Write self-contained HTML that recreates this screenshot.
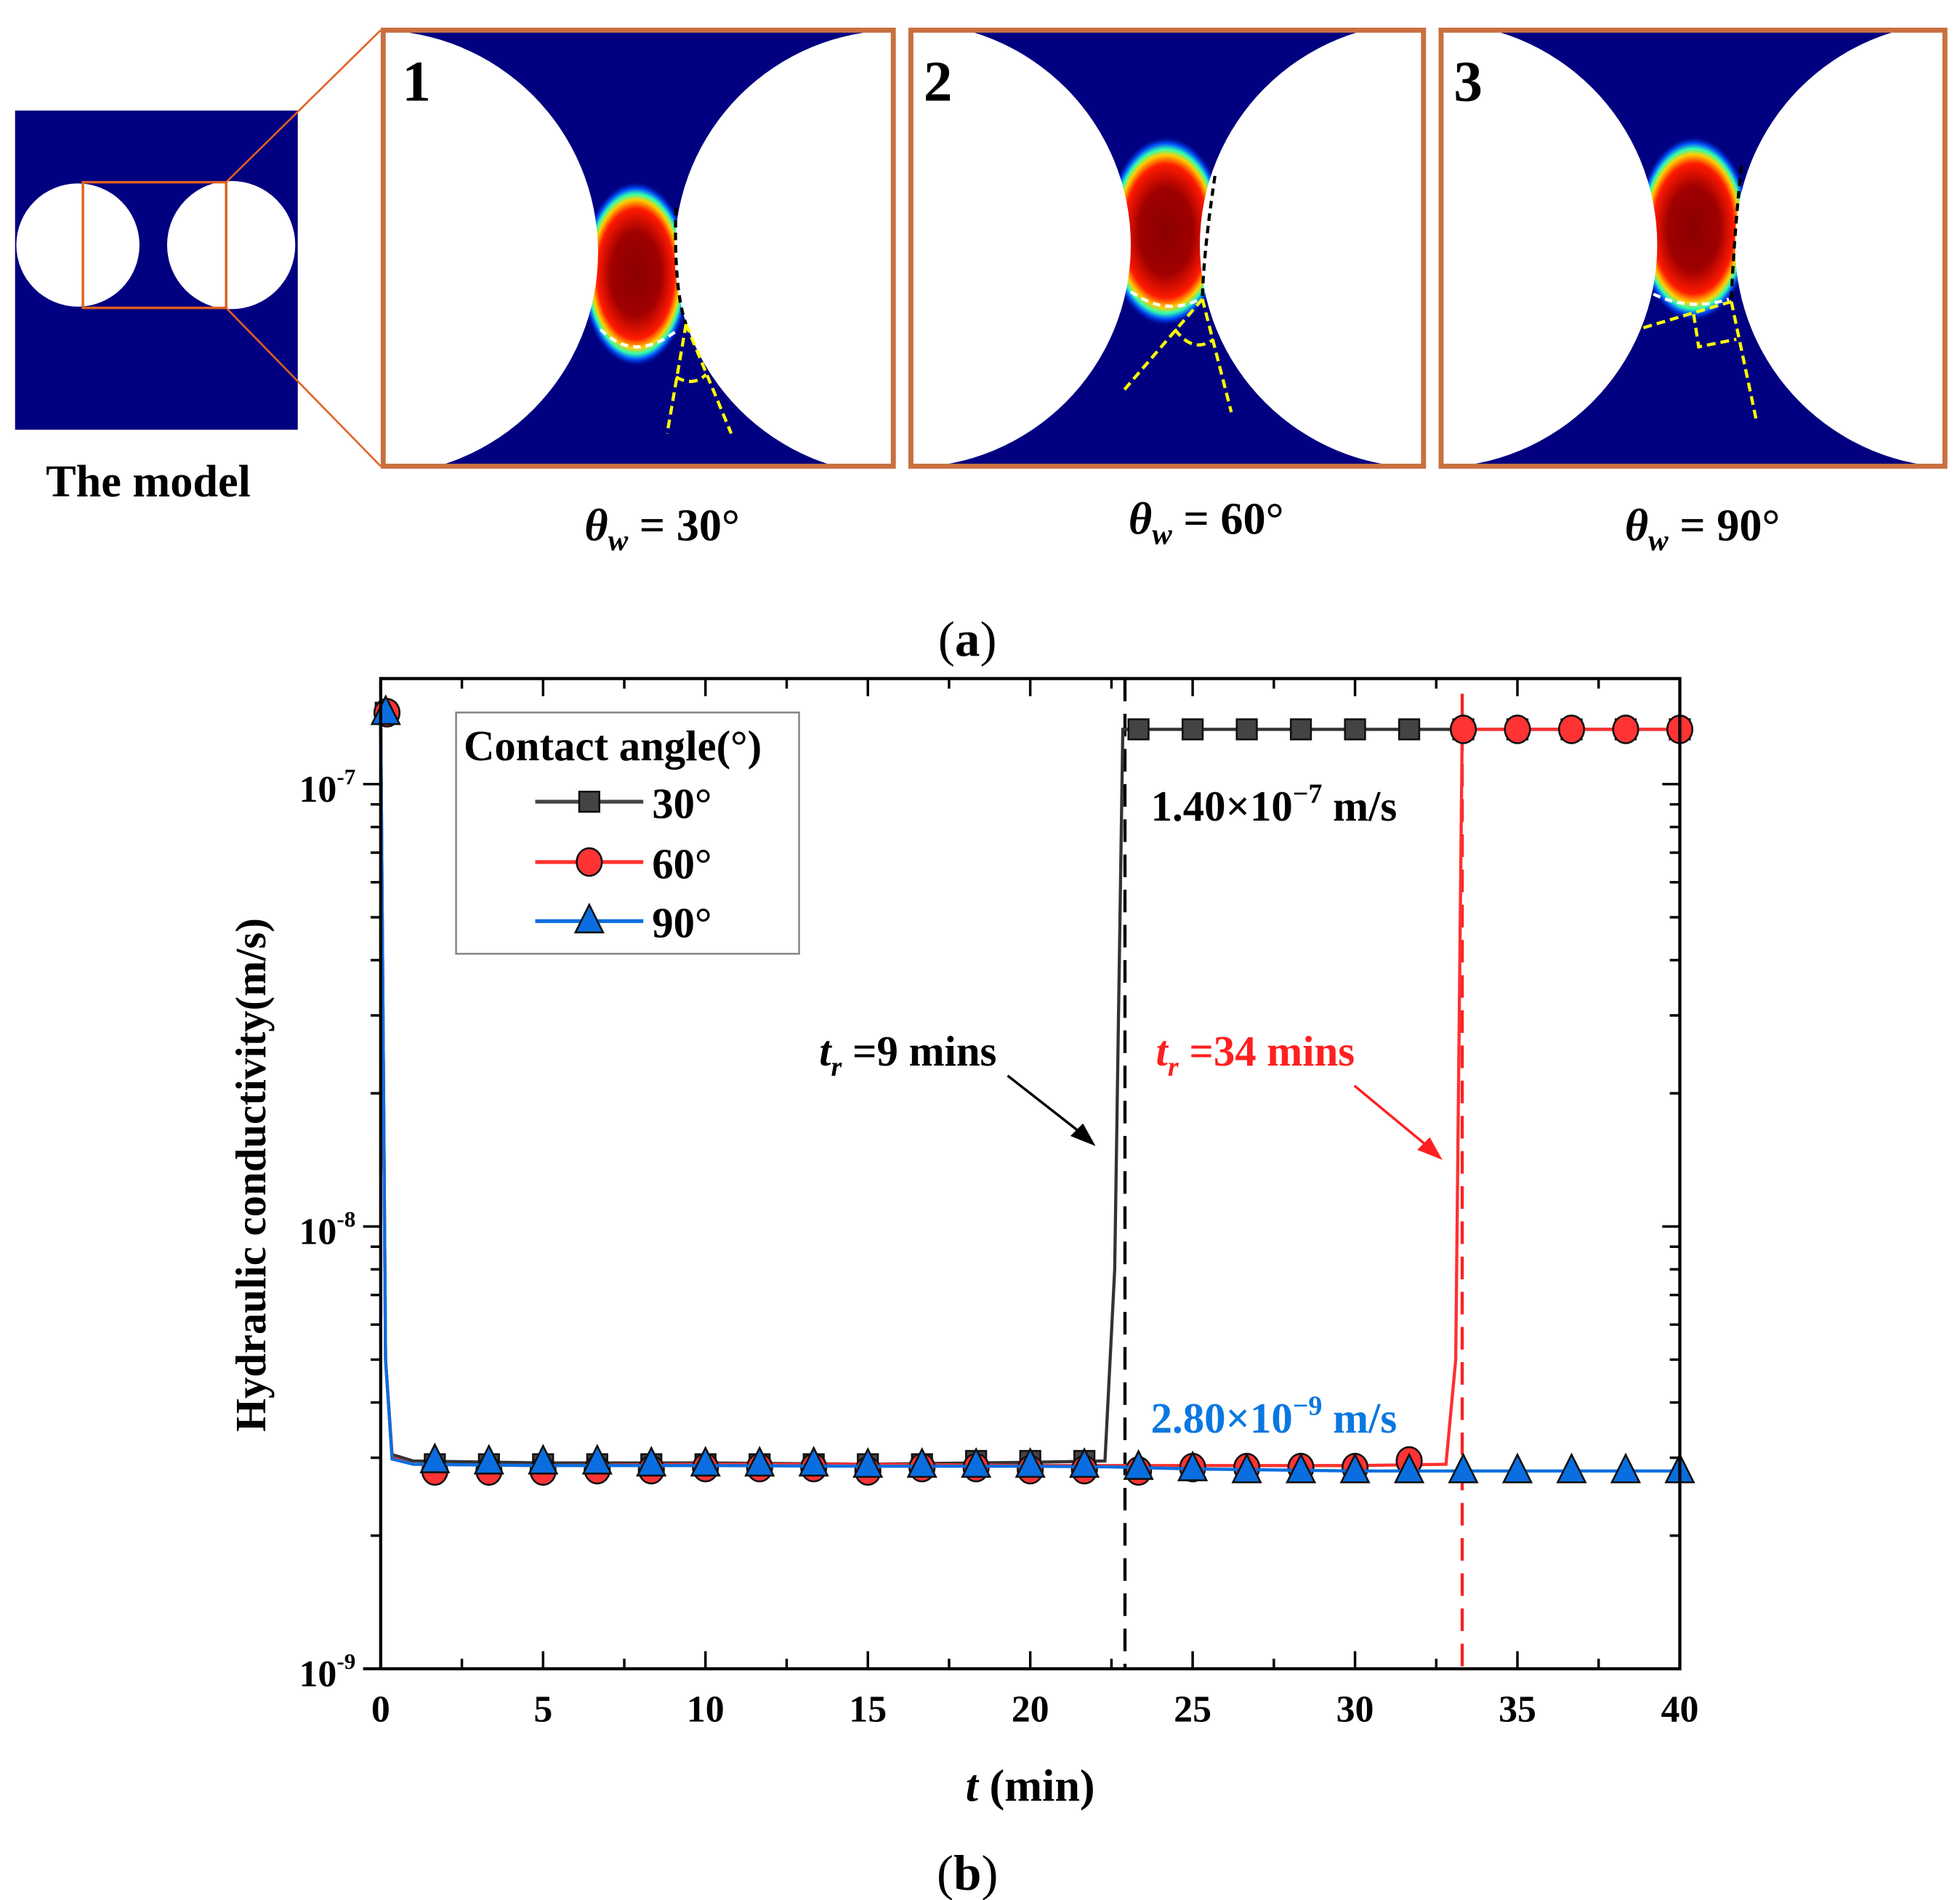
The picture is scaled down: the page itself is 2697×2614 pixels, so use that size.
<!DOCTYPE html>
<html><head><meta charset="utf-8"><style>
html,body{margin:0;padding:0;background:#fff}
svg{display:block}
text{font-family:"Liberation Serif",serif;font-weight:bold}
</style></head><body>
<svg id="root" width="2697" height="2614" viewBox="0 0 1560 1512" preserveAspectRatio="none" xmlns="http://www.w3.org/2000/svg">
<defs>
<radialGradient id="drop" cx="50%" cy="50%" r="50%">
<stop offset="0" stop-color="#8b0000"/><stop offset="0.45" stop-color="#a00000"/><stop offset="0.7" stop-color="#ff1a00"/><stop offset="0.8" stop-color="#ffd000"/><stop offset="0.86" stop-color="#30ffb0"/><stop offset="0.92" stop-color="#0050ff"/><stop offset="1" stop-color="#000080" stop-opacity="0"/>
</radialGradient>
<clipPath id="c1"><rect x="305" y="24" width="406" height="347"/></clipPath>
<clipPath id="c2"><rect x="725" y="24" width="408" height="347"/></clipPath>
<clipPath id="c3"><rect x="1147" y="24" width="401" height="347"/></clipPath>
</defs>

<g>
<rect x="12" y="88" width="225" height="254" fill="#000080"/>
<circle cx="62" cy="195" r="49" fill="#fff"/>
<circle cx="184" cy="195" r="51" fill="#fff"/>
<rect x="66" y="145" width="114" height="100" fill="none" stroke="#e06020" stroke-width="2"/>
<line x1="180" y1="145" x2="303" y2="24" stroke="#e06020" stroke-width="1.5"/>
<line x1="180" y1="245" x2="303" y2="371" stroke="#e06020" stroke-width="1.5"/>
<text x="118" y="395" font-size="36" text-anchor="middle">The model</text>
</g>

<g>
<g clip-path="url(#c1)">
<rect x="305" y="24" width="406" height="347" fill="#000080"/>
<ellipse cx="506" cy="218" rx="44" ry="74" fill="url(#drop)"/>
<circle cx="299" cy="201" r="177" fill="#fff"/>
<circle cx="714" cy="201" r="177" fill="#fff"/>
</g>
<path d="M538,165 Q536,230 546,258" stroke="#000" stroke-width="2.5" stroke-dasharray="6,4" fill="none"/>
<path d="M478,262 Q505,290 540,262" stroke="#fff" stroke-width="2.5" stroke-dasharray="6,4" fill="none"/>
<path d="M546,258 L531,345 M546,258 L582,345 M538,300 Q552,308 562,298" stroke="#ffff00" stroke-width="2.5" stroke-dasharray="7,4" fill="none"/>
<rect x="305" y="24" width="406" height="347" fill="none" stroke="#c87040" stroke-width="4"/>
<text x="320" y="80" font-size="46">1</text>
<text x="527" y="430" font-size="36" text-anchor="middle"><tspan font-style="italic">θ</tspan><tspan font-style="italic" font-size="24" dy="8">w</tspan><tspan dy="-8"> = 30°</tspan></text>
</g>

<g>
<g clip-path="url(#c2)">
<rect x="725" y="24" width="408" height="347" fill="#000080"/>
<ellipse cx="928" cy="184" rx="48" ry="76" fill="url(#drop)"/>
<circle cx="723" cy="195" r="177" fill="#fff"/>
<circle cx="1132" cy="195" r="177" fill="#fff"/>
</g>
<path d="M967,140 Q958,200 957,237" stroke="#000" stroke-width="2.5" stroke-dasharray="6,4" fill="none"/>
<path d="M900,232 Q928,252 955,238" stroke="#fff" stroke-width="2.5" stroke-dasharray="6,4" fill="none"/>
<path d="M957,238 L895,310 M957,238 L980,328 M935,262 Q950,282 966,270" stroke="#ffff00" stroke-width="2.5" stroke-dasharray="7,4" fill="none"/>
<rect x="725" y="24" width="408" height="347" fill="none" stroke="#c87040" stroke-width="4"/>
<text x="735" y="80" font-size="46">2</text>
<text x="960" y="425" font-size="36" text-anchor="middle"><tspan font-style="italic">θ</tspan><tspan font-style="italic" font-size="24" dy="8">w</tspan><tspan dy="-8"> = 60°</tspan></text>
</g>

<g>
<g clip-path="url(#c3)">
<rect x="1147" y="24" width="401" height="347" fill="#000080"/>
<ellipse cx="1348" cy="182" rx="46" ry="74" fill="url(#drop)"/>
<circle cx="1142" cy="195" r="177" fill="#fff"/>
<circle cx="1558" cy="195" r="177" fill="#fff"/>
</g>
<path d="M1386,132 Q1380,190 1378,238" stroke="#000" stroke-width="2.5" stroke-dasharray="6,4" fill="none"/>
<path d="M1316,234 Q1345,248 1376,238" stroke="#fff" stroke-width="2.5" stroke-dasharray="6,4" fill="none"/>
<path d="M1378,240 L1304,262 M1378,240 L1398,335 M1348,250 L1352,276 L1382,270" stroke="#ffff00" stroke-width="2.5" stroke-dasharray="7,4" fill="none"/>
<rect x="1147" y="24" width="401" height="347" fill="none" stroke="#c87040" stroke-width="4"/>
<text x="1157" y="80" font-size="46">3</text>
<text x="1355" y="430" font-size="36" text-anchor="middle"><tspan font-style="italic">θ</tspan><tspan font-style="italic" font-size="24" dy="8">w</tspan><tspan dy="-8"> = 90°</tspan></text>
</g>

<text x="770" y="522" font-size="40" text-anchor="middle" style="font-weight:normal">(<tspan font-weight="bold">a</tspan>)</text>

<g id="chart"></g>
<text x="770" y="1504" font-size="40" text-anchor="middle" style="font-weight:normal">(<tspan font-weight="bold">b</tspan>)</text>
</svg>
<script>
const xTicks = [0,5,10,15,20,25,30,35,40];
const yDecades = [-9,-8,-7];
const markerTimes = [1.667,3.333,5,6.667,8.333,10,11.667,13.333,15,16.667,18.333,20,21.667,23.333,25,26.667,28.333,30,31.667,33.333,35,36.667,38.333,40];
const line30T = [0,0.15,0.35,1,5,10,15,20,22.3,22.6,22.85,40];
const line30V = [1.45e-7,5e-9,3.05e-9,2.95e-9,2.92e-9,2.92e-9,2.9e-9,2.93e-9,2.95e-9,8e-9,1.33e-7,1.33e-7];
const line60T = [0,0.15,0.35,1,5,10,15,20,22.5,25,30,32.8,33.1,33.3,40];
const line60V = [1.45e-7,5e-9,3.0e-9,2.9e-9,2.88e-9,2.9e-9,2.9e-9,2.88e-9,2.88e-9,2.88e-9,2.88e-9,2.9e-9,5e-9,1.33e-7,1.33e-7];
const line90T = [0,0.15,0.35,1,5,10,15,20,22.5,25,30,40];
const line90V = [1.45e-7,5e-9,2.98e-9,2.9e-9,2.88e-9,2.88e-9,2.87e-9,2.87e-9,2.86e-9,2.83e-9,2.8e-9,2.8e-9];
const marker30V = [2.9e-9,2.9e-9,2.9e-9,2.9e-9,2.9e-9,2.9e-9,2.9e-9,2.9e-9,2.9e-9,2.9e-9,2.95e-9,2.95e-9,2.95e-9,1.33e-7,1.33e-7,1.33e-7,1.33e-7,1.33e-7,1.33e-7,1.33e-7,1.33e-7,1.33e-7,1.33e-7,1.33e-7];
const marker60V = [2.8e-9,2.8e-9,2.8e-9,2.82e-9,2.82e-9,2.85e-9,2.85e-9,2.85e-9,2.8e-9,2.85e-9,2.85e-9,2.82e-9,2.82e-9,2.8e-9,2.85e-9,2.85e-9,2.85e-9,2.85e-9,2.95e-9,1.33e-7,1.33e-7,1.33e-7,1.33e-7,1.33e-7];
const marker90V = [2.95e-9,2.93e-9,2.93e-9,2.93e-9,2.9e-9,2.9e-9,2.9e-9,2.9e-9,2.88e-9,2.88e-9,2.88e-9,2.88e-9,2.88e-9,2.85e-9,2.83e-9,2.8e-9,2.8e-9,2.8e-9,2.8e-9,2.8e-9,2.8e-9,2.8e-9,2.8e-9,2.8e-9];
const firstPointV = 1.45e-7;
const breakthrough30 = 22.8, breakthrough60 = 33.3;

const NS='http://www.w3.org/2000/svg';
const L=303,R=1337,T=540,B=1328;
const X=t=>L+(t/40)*(R-L);
const Y=v=>1328-(Math.log10(v)+9)*352;
const g=document.getElementById('chart');
function mk(tag,attrs,parent){const e=document.createElementNS(NS,tag);for(const k in attrs)e.setAttribute(k,attrs[k]);(parent||g).appendChild(e);return e;}

xTicks.forEach((t,i)=>{
  const x=X(t);
  const a=mk('line',{x1:x,y1:B,x2:x,y2:B-14,stroke:'#000','stroke-width':2});
  
  
  const b=mk('line',{x1:x,y1:T,x2:x,y2:T+14,stroke:'#000','stroke-width':2});
  
  
  if(i<xTicks.length-1){const xm=X(t+2.5);
    mk('line',{x1:xm,y1:B,x2:xm,y2:B-8,stroke:'#000','stroke-width':2});
    mk('line',{x1:xm,y1:T,x2:xm,y2:T+8,stroke:'#000','stroke-width':2});}
  const tx=mk('text',{x:x,y:B+42,'font-size':30,'text-anchor':'middle'});
  tx.textContent=t;
  
  
});
yDecades.forEach(d=>{
  const y=Y(Math.pow(10,d));
  const a=mk('line',{x1:L-14,y1:y,x2:L,y2:y,stroke:'#000','stroke-width':2});
  
  
  mk('line',{x1:R-14,y1:y,x2:R,y2:y,stroke:'#000','stroke-width':2});
  const tx=mk('text',{x:L-20,y:y+14,'font-size':30,'text-anchor':'end'});
  tx.innerHTML='10<tspan font-size="18" dy="-14">'+d+'</tspan>';
  
  
  for(let m=2;m<=9;m++){const ym=Y(m*Math.pow(10,d));if(ym<T)continue;
    mk('line',{x1:L-8,y1:ym,x2:L,y2:ym,stroke:'#000','stroke-width':2});
    mk('line',{x1:R-8,y1:ym,x2:R,y2:ym,stroke:'#000','stroke-width':2});}
});

const v1=mk('line',{x1:X(breakthrough30)+3,y1:T,x2:X(breakthrough30)+3,y2:B,stroke:'#000','stroke-width':2.5,'stroke-dasharray':'18,10'});


const v2=mk('line',{x1:X(breakthrough60),y1:T+12,x2:X(breakthrough60),y2:B,stroke:'#ff2020','stroke-width':2.5,'stroke-dasharray':'18,10'});



function series(Ts,Vs,color,name){
  const p=mk('polyline',{points:Ts.map((t,i)=>X(t)+','+Y(Vs[i])).join(' '),fill:'none',stroke:color,'stroke-width':2.5});
  
  
}
function square(x,y){return mk('rect',{x:x-8,y:y-8,width:16,height:16,fill:'#444',stroke:'#111','stroke-width':1.5});}
function circ(x,y){return mk('ellipse',{cx:x,cy:y,rx:10,ry:11,fill:'#f33',stroke:'#111','stroke-width':1.5});}
function tri(x,y){return mk('polygon',{points:`${x},${y-13} ${x-11},${y+9} ${x+11},${y+9}`,fill:'#0a6ee0',stroke:'#111','stroke-width':1.5});}

series(line30T,line30V,'#333','line-30deg');
markerTimes.forEach((t,i)=>{const m=square(X(t),Y(marker30V[i]));
  
  });
series(line60T,line60V,'#ff3030','line-60deg');
markerTimes.forEach((t,i)=>{const m=circ(X(t),Y(marker60V[i]));
  
  });
series(line90T,line90V,'#0a6ee0','line-90deg');
markerTimes.forEach((t,i)=>{const m=tri(X(t),Y(marker90V[i]));
  
  });
square(X(0)+4,Y(firstPointV));circ(X(0)+5,Y(firstPointV));tri(X(0)+4,Y(firstPointV));

const fr=mk('rect',{x:L,y:T,width:R-L,height:B-T,fill:'none',stroke:'#000','stroke-width':2.5});


mk('line',{x1:L-14,y1:B,x2:L,y2:B,stroke:'#000','stroke-width':2.5});

const lg=mk('g',{});


mk('rect',{x:363,y:567,width:273,height:192,fill:'#fff',stroke:'#888','stroke-width':1.5},lg);
const lt=mk('text',{x:369,y:605,'font-size':34},lg);lt.textContent='Contact angle(°)';


[['30°','#444',square,638],['60°','#ff3030',circ,686],['90°','#0a6ee0',tri,733]].forEach(([lab,c,f,y])=>{
  mk('line',{x1:426,y1:y,x2:512,y2:y,stroke:c,'stroke-width':3},lg);
  const m=f(469,y);lg.appendChild(m);
  const t=mk('text',{x:519,y:y+13,'font-size':34},lg);t.textContent=lab;
  
  
});

const a1=mk('text',{x:916,y:653,'font-size':34});
a1.innerHTML='1.40×10<tspan font-size="22" dy="-14">−7</tspan><tspan dy="14"> m/s</tspan>';


const a2=mk('text',{x:916,y:1140,'font-size':34,fill:'#0a78e0'});
a2.innerHTML='2.80×10<tspan font-size="22" dy="-14">−9</tspan><tspan dy="14"> m/s</tspan>';


const a3=mk('text',{x:652,y:848,'font-size':34});
a3.innerHTML='<tspan font-style="italic">t</tspan><tspan font-style="italic" font-size="22" dy="8">r</tspan><tspan dy="-8"> =9 mins</tspan>';


const a4=mk('text',{x:920,y:848,'font-size':34,fill:'#ff2020'});
a4.innerHTML='<tspan font-style="italic">t</tspan><tspan font-style="italic" font-size="22" dy="8">r</tspan><tspan dy="-8"> =34 mins</tspan>';


mk('line',{x1:802,y1:856,x2:866,y2:906,stroke:'#000','stroke-width':2});
mk('polygon',{points:'872,912 852,904 862,894',fill:'#000'});
mk('line',{x1:1078,y1:864,x2:1142,y2:917,stroke:'#ff2020','stroke-width':2});
mk('polygon',{points:'1148,923 1128,915 1138,905',fill:'#ff2020'});

const xt=mk('text',{x:820,y:1433,'font-size':36,'text-anchor':'middle'});
xt.innerHTML='<tspan font-style="italic">t</tspan> (min)';


const yt=mk('text',{x:0,y:0,'font-size':34,'text-anchor':'middle',transform:'translate(211,935) rotate(-90)'});
yt.textContent='Hydraulic conductivity(m/s)';


</script>
</body></html>
